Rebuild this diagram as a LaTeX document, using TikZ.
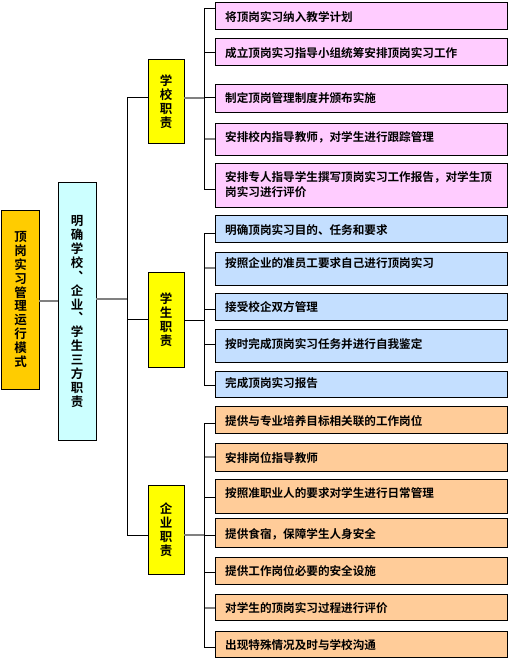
\documentclass[tikz,border=0pt]{standalone}
\usepackage{fontspec}
\newfontfamily\cjk{Noto Sans CJK SC Bold}
\usetikzlibrary{calc}
\definecolor{cpink}{HTML}{FFCCFF}
\definecolor{cblue}{HTML}{C4DFFF}
\definecolor{corange}{HTML}{FFCC99}
\definecolor{cyel}{HTML}{FFFF00}
\definecolor{cgold}{HTML}{FFCC00}
\definecolor{ccyan}{HTML}{CCFFFF}
\tikzset{
 box/.style={draw=black, line width=1bp, inner sep=0pt, outer sep=0pt},
 rbox/.style={box, minimum width=292bp, anchor=north west},
 rtxt/.style={anchor=west, inner sep=0pt, font=\cjk\fontsize{11.6bp}{15bp}\selectfont, align=left},
 vtxt/.style={box, align=center, font=\cjk\fontsize{12.5bp}{13.9bp}\selectfont},
 ln/.style={line width=1bp, draw=black},
 gln/.style={line width=1.3bp, draw=black!50},
}
\newcommand\rb[6]{%
 \node[rbox, fill=#4, minimum height=#3bp] (#1) at (215,#2) {};
 \node[rtxt] (#1t) at (225,#5) {#6};
}
\newcommand\br[3]{%
 \coordinate (#1b) at (204,#2);
 \draw[#3] (#1b) -- (#1b -| #1.west);
}
\begin{document}
\begin{tikzpicture}[x=1bp,y=-1bp]
\useasboundingbox (0,0) rectangle (510,660);
% left boxes
\node[vtxt, fill=cgold, minimum width=37bp, minimum height=179bp] (mode) at (20.5,299.5)
 {顶\\岗\\实\\习\\管\\理\\运\\行\\模\\式};
\node[vtxt, fill=ccyan, minimum width=38bp, minimum height=257bp] (three) at (77,311.5)
 {明\\确\\学\\校\\︑\\企\\业\\︑\\学\\生\\三\\方\\职\\责};
% yellow boxes
\node[vtxt, fill=cyel, minimum width=36bp, minimum height=83bp] (school) at (166,101.5) {学\\校\\职\\责};
\node[vtxt, fill=cyel, minimum width=36bp, minimum height=95bp] (student) at (166,319.5) {学\\生\\职\\责};
\node[vtxt, fill=cyel, minimum width=36bp, minimum height=89bp] (firm) at (166,529.5) {企\\业\\职\\责};
% school items
\rb{s1}{3}{27}{cpink}{17}{将顶岗实习纳入教学计划}
\rb{s2}{39}{27}{cpink}{53}{成立顶岗实习指导小组统筹安排顶岗实习工作}
\rb{s3}{85}{27}{cpink}{98}{制定顶岗管理制度并颁布实施}
\rb{s4}{123}{32}{cpink}{137}{安排校内指导教师，对学生进行跟踪管理}
\rb{s5}{163}{44}{cpink}{184.5}{安排专人指导学生撰写顶岗实习工作报告，对学生顶\\岗实习进行评价}
% student items
\rb{t1}{215}{27}{cblue}{230}{明确顶岗实习目的、任务和要求}
\rb{t2}{252}{33}{cblue}{263}{按照企业的准员工要求自己进行顶岗实习}
\rb{t3}{293}{27}{cblue}{307.5}{接受校企双方管理}
\rb{t4}{329}{33}{cblue}{344}{按时完成顶岗实习任务并进行自我鉴定}
\rb{t5}{371}{26}{cblue}{383}{完成顶岗实习报告}
% firm items
\rb{c1}{406}{27}{corange}{421}{提供与专业培养目标相关联的工作岗位}
\rb{c2}{443}{28}{corange}{458}{安排岗位指导教师}
\rb{c3}{479}{34}{corange}{493}{按照准职业人的要求对学生进行日常管理}
\rb{c4}{518}{29}{corange}{534}{提供食宿，保障学生人身安全}
\rb{c5}{557}{27}{corange}{571.5}{提供工作岗位必要的安全设施}
\rb{c6}{594}{26}{corange}{608}{对学生的顶岗实习过程进行评价}
\rb{c7}{631}{26}{corange}{645}{出现特殊情况及时与学校沟通}
% branches school
\br{s1}{9}{ln}
\br{s2}{53}{ln}
\br{s3}{98}{ln}
\br{s4}{139}{gln}
\br{s5}{189}{ln}
\draw[ln] (s1b) -- (s5b);
\coordinate (sj) at (204,98);
\draw[gln] (school.east |- sj) -- (sj);
% branches student
\br{t1}{233}{ln}
\br{t2}{268}{gln}
\br{t3}{309}{ln}
\br{t4}{344}{ln}
\br{t5}{385}{ln}
\draw[ln] (t1b) -- (t5b);
\coordinate (tj) at (204,320);
\draw[ln] (student.east |- tj) -- (tj);
% branches firm
\br{c1}{423}{ln}
\br{c2}{457}{gln}
\br{c3}{497}{ln}
\br{c4}{535}{ln}
\br{c5}{572}{ln}
\br{c6}{608}{gln}
\br{c7}{647}{ln}
\draw[ln] (c1b) -- (c7b);
\draw[gln] (firm.east |- c4b) -- (c4b);
% trunk
\coordinate (k1) at (127,98);
\coordinate (k2) at (127,319);
\coordinate (k3) at (127,535);
\coordinate (k0) at (127,299);
\draw[ln] (k1) -- (k3);
\draw[ln] (k1) -- (k1 -| school.west);
\draw[ln] (k2) -- (k2 -| student.west);
\draw[ln] (k3) -- (k3 -| firm.west);
\draw[gln] (three.east |- k0) -- (k0);
\coordinate (m0) at (48,301);
\draw[gln] (mode.east |- m0) -- (m0 -| three.west);
\end{tikzpicture}
\end{document}
